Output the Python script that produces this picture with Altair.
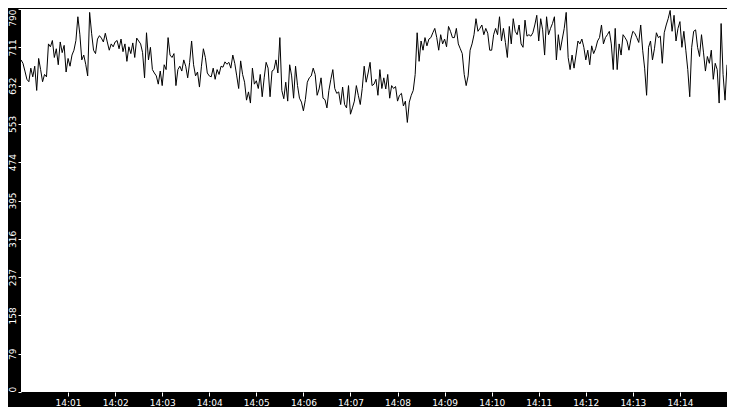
import altair as alt
import pandas as pd

# values sampled every 2.5 s from 14:00:00 to 14:15:00
seg_a = [685, 678, 662, 645, 640, 668, 650, 672, 622, 688,
         665, 640, 655, 650, 718, 712, 725, 690, 708, 675,
         722, 700, 715, 660, 688, 672, 695, 705, 725, 774,
         738, 685, 695, 676, 652, 783, 740, 705, 698, 728,
         735, 730, 722, 740, 722, 705, 718, 712, 722, 725,
         708, 728, 702, 718, 682, 712, 698, 720, 690, 730]
seg_b = [724, 718, 700, 648, 741, 685, 711, 665, 658, 652,
         635, 662, 632, 675, 665, 731, 695, 690, 698, 632,
         665, 672, 662, 685, 672, 648, 680, 724, 675, 652,
         660, 629, 672, 708, 690, 658, 652, 650, 668, 645,
         665, 655, 672, 670, 681, 676, 680, 668, 695, 678,
         652, 626, 683, 655, 639, 602, 619, 596, 668, 635]
seg_c = [642, 626, 655, 609, 648, 680, 668, 609, 662, 665,
         685, 658, 731, 622, 605, 639, 600, 675, 652, 606,
         672, 632, 606, 598, 580, 603, 639, 648, 652, 668,
         655, 612, 625, 648, 606, 603, 586, 622, 645, 665,
         626, 616, 619, 593, 629, 593, 586, 632, 573, 586,
         600, 632, 612, 593, 626, 672, 639, 658, 680, 632]
seg_d = [635, 645, 612, 665, 626, 648, 625, 655, 606, 632,
         626, 630, 600, 612, 616, 590, 600, 556, 598, 612,
         622, 655, 741, 682, 724, 705, 731, 714, 728, 731,
         741, 750, 731, 705, 737, 718, 728, 712, 754, 744,
         731, 731, 750, 718, 708, 698, 655, 632, 652, 705,
         718, 737, 770, 744, 750, 757, 737, 750, 740, 705]
seg_e = [705, 737, 750, 737, 774, 724, 750, 721, 690, 754,
         718, 770, 744, 737, 757, 718, 711, 767, 734, 737,
         734, 741, 757, 777, 724, 770, 747, 695, 774, 737,
         750, 760, 774, 685, 737, 705, 728, 750, 783, 690,
         665, 695, 668, 695, 724, 718, 728, 711, 685, 705,
         675, 714, 698, 708, 724, 731, 757, 718, 731, 737]
seg_f = [744, 718, 665, 750, 665, 718, 695, 737, 731, 724,
         705, 728, 744, 740, 731, 721, 757, 705, 668, 612,
         711, 724, 685, 708, 741, 731, 734, 678, 741, 757,
         770, 787, 744, 777, 724, 750, 764, 711, 744, 705,
         665, 609, 711, 744, 747, 711, 692, 737, 701, 662,
         692, 678, 705, 645, 678, 665, 596, 760, 655, 602,
         675]

y_ticks = [0, 79, 158, 237, 316, 395, 474, 553, 632, 711, 790]
x_tick_minutes = list(range(1, 15))

values = seg_a + seg_b + seg_c + seg_d + seg_e + seg_f
times = pd.date_range("2024-01-01 14:00:00", periods=len(values), freq="2500ms")
df = pd.DataFrame({
    "t": times.strftime("%Y-%m-%dT%H:%M:%S.%f").str[:-3],
    "v": values,
})

x_vals = [alt.DateTime(year=2024, month=1, date=1, hours=14, minutes=m) for m in x_tick_minutes]

chart = alt.Chart(df).mark_line(color="black", strokeWidth=1, clip=True).encode(
    x=alt.X("t:T",
            scale=alt.Scale(domain=[alt.DateTime(year=2024, month=1, date=1, hours=14, minutes=0),
                                    alt.DateTime(year=2024, month=1, date=1, hours=14, minutes=15)],
                            nice=False),
            axis=alt.Axis(title=None, values=x_vals, format="%H:%M", grid=False, domain=False,
                          tickColor="white", tickSize=4, labelColor="white", labelPadding=2,
                          labelFont="DejaVu Sans", labelFontSize=9, labelFlush=False,
                          labelOverlap=False)),
    y=alt.Y("v:Q",
            scale=alt.Scale(domain=[0, 790], nice=False, zero=True),
            axis=alt.Axis(title=None, values=y_ticks, grid=False, domain=False,
                          tickColor="white", tickSize=3, labelColor="white", labelPadding=1,
                          labelFont="DejaVu Sans", labelFontSize=9, labelAngle=270,
                          labelBaseline="bottom", labelFlush=False, labelOverlap=False,
                          labelAlign={"condition": [
                              {"test": "datum.value >= 790", "value": "right"},
                              {"test": "datum.value <= 0", "value": "left"}],
                              "value": "center"})),
).properties(
    width=719, height=399, background="black", padding=0,
    autosize=alt.AutoSizeParams(type="fit", contains="padding"),
).configure_view(fill="white", strokeWidth=0)

chart.save("out.html", embed_options={"renderer": "svg", "actions": False})
